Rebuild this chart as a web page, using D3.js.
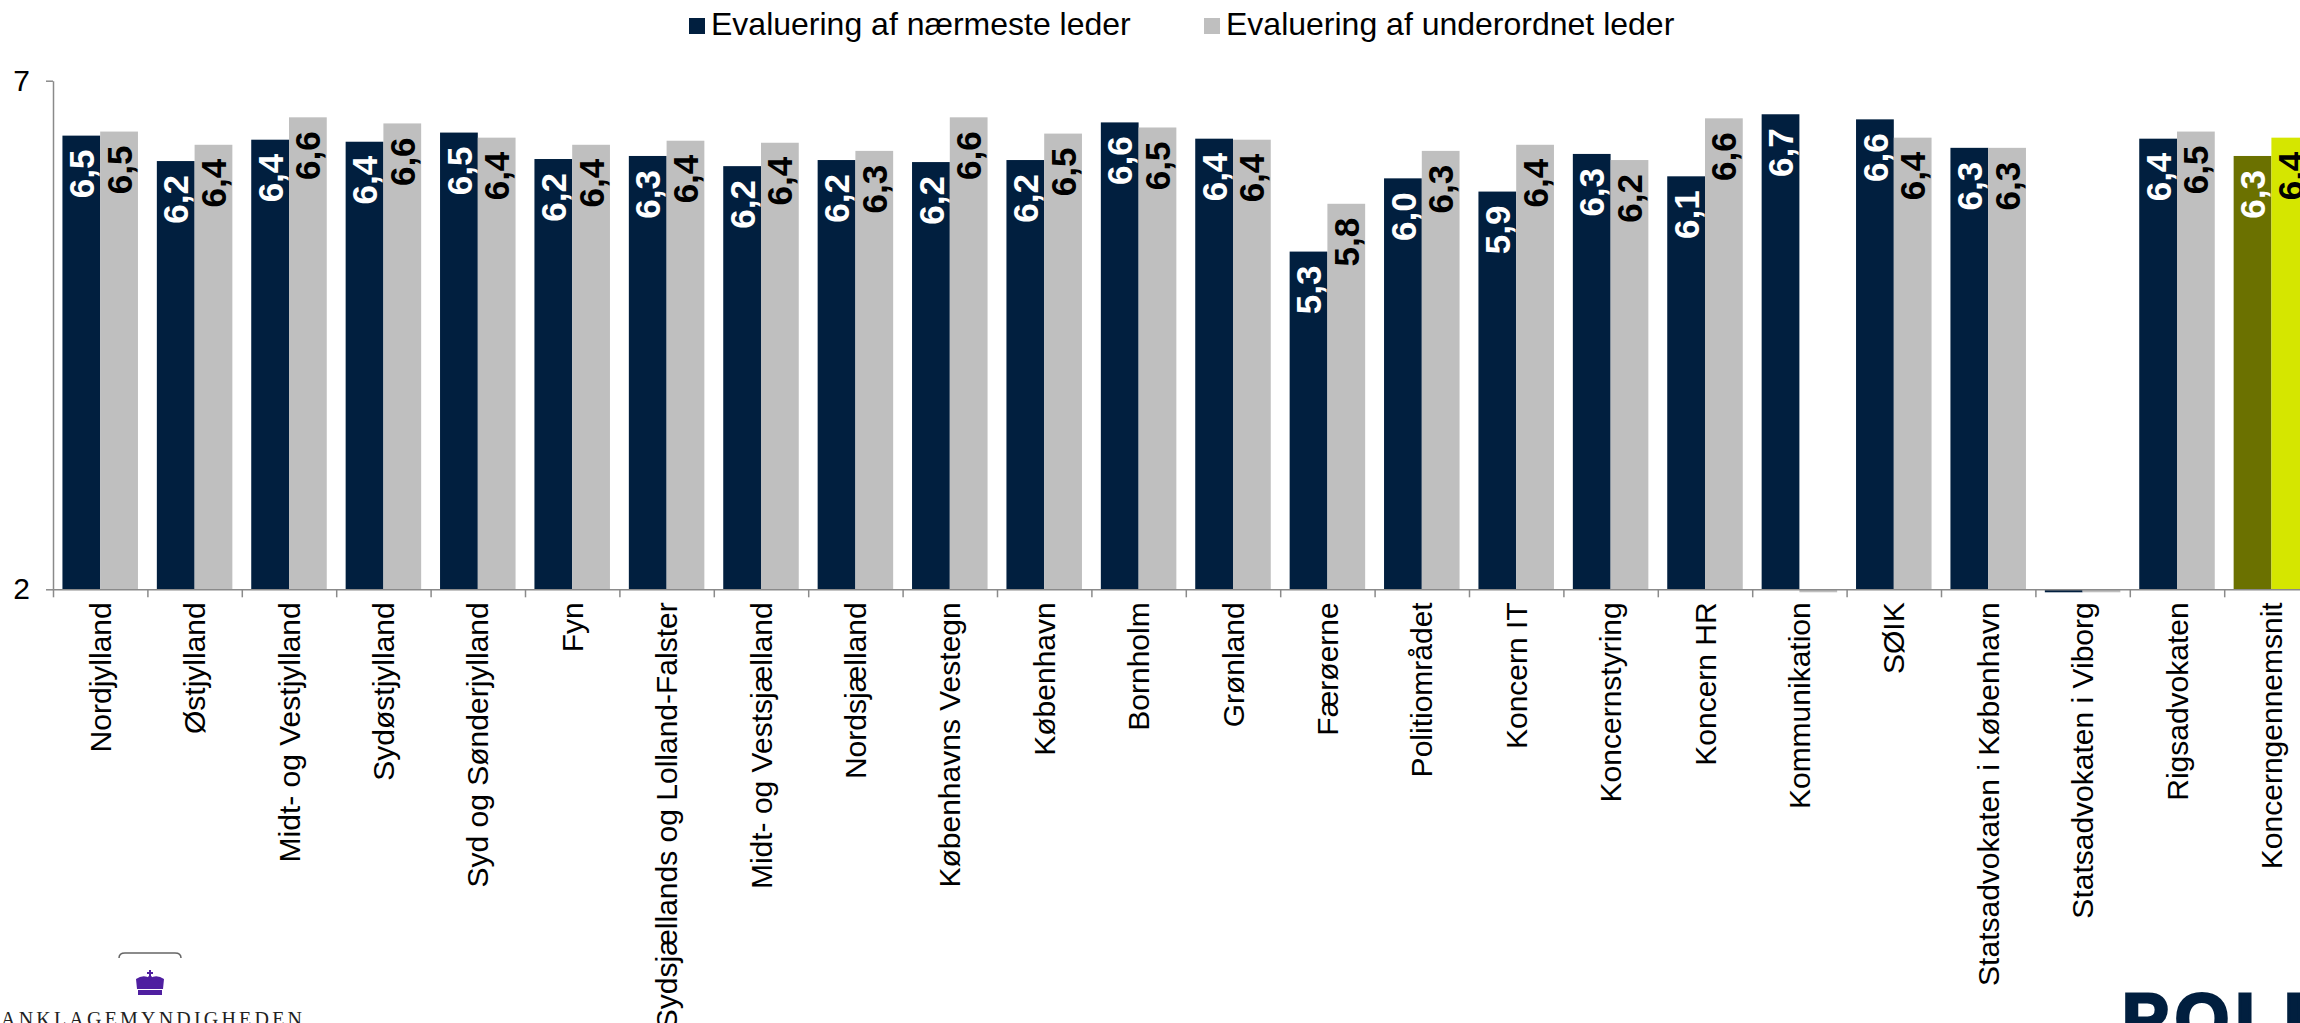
<!DOCTYPE html>
<meta charset="utf-8">
<style>

    body {
        margin: 0;
        background: #fff;
    }

    text {
        font-family: "Liberation Sans", Arial, sans-serif;
    }

    .axis path,
    .axis line {
        stroke: #8a8a8a;
        stroke-width: 1.5px;
    }

    .value-label {
        font-size: 35px;
        font-weight: bold;
    }

</style>
<svg width="2300" height="1023"></svg>
<script src="https://d3js.org/d3.v7.min.js"></script>
<script>

    var categories = ["Nordjylland", "Østjylland", "Midt- og Vestjylland", "Sydøstjylland",
        "Syd og Sønderjylland", "Fyn", "Sydsjællands og Lolland-Falster", "Midt- og Vestsjælland",
        "Nordsjælland", "Københavns Vestegn", "København", "Bornholm", "Grønland", "Færøerne",
        "Politiområdet", "Koncern IT", "Koncernstyring", "Koncern HR", "Kommunikation", "SØIK",
        "Statsadvokaten i København", "Statsadvokaten i Viborg", "Rigsadvokaten", "Koncerngennemsnit"];

    var seriesNames = ["Evaluering af nærmeste leder", "Evaluering af underordnet leder"];

    var naermeste = [6.46, 6.21, 6.42, 6.40, 6.49, 6.23, 6.26, 6.16, 6.22, 6.20, 6.22, 6.59,
        6.43, 5.32, 6.04, 5.91, 6.28, 6.06, 6.67, 6.62, 6.34, 0, 6.43, 6.26];

    var underordnet = [6.50, 6.37, 6.64, 6.58, 6.44, 6.37, 6.41, 6.39, 6.31, 6.64, 6.48, 6.54,
        6.42, 5.79, 6.31, 6.37, 6.22, 6.63, 0, 6.44, 6.34, 0, 6.50, 6.44];

    var yTicks = [2, 7];

    var seriesColors = ["#011f3f", "#bfbfbf"];
    var highlightColors = ["#6b7100", "#d5e600"];
    var highlightCategory = "Koncerngennemsnit";
    var labelColors = ["#fff", "#000"];

    var svg = d3.select("svg"),
        width = +svg.attr("width"),
        height = +svg.attr("height");

    var plotLeft = 53,
        step = 94.4,
        plotTop = 80.7,
        plotBottom = 589.3;

    var x0 = d3.scaleBand()
        .domain(categories)
        .range([plotLeft, plotLeft + categories.length * step])
        .padding(0);

    var x1 = d3.scaleBand()
        .domain([0, 1])
        .range([0, x0.bandwidth()])
        .paddingOuter(0.25);

    var y = d3.scaleLinear()
        .domain([yTicks[0], yTicks[1]])
        .range([plotBottom, plotTop]);

    var fmt = d3.format(".1f");
    var label = function (v) {
        return fmt(v).replace(".", ",");
    };

    var rows = categories.map(function (c, i) {
        return {
            name: c,
            values: [naermeste[i], underordnet[i]]
        };
    });

    // bars
    var group = svg.append("g")
        .selectAll("g")
        .data(rows)
        .enter().append("g")
        .attr("transform", function (d) {
            return "translate(" + x0(d.name) + ",0)";
        });

    var bars = group.selectAll("rect")
        .data(function (d) {
            return d.values.map(function (v, k) {
                return {cat: d.name, k: k, v: v};
            });
        })
        .enter();

    bars.append("rect")
        .attr("x", function (d) { return x1(d.k); })
        .attr("width", x1.bandwidth())
        .attr("y", function (d) {
            return d.v < yTicks[0] ? y(yTicks[0]) : y(d.v);
        })
        .attr("height", function (d) {
            // values under the axis minimum show as a thin sliver below the axis
            return d.v < yTicks[0] ? 3 : y(yTicks[0]) - y(d.v);
        })
        .attr("fill", function (d) {
            return d.cat === highlightCategory ? highlightColors[d.k] : seriesColors[d.k];
        });

    bars.filter(function (d) { return d.v >= yTicks[0]; })
        .append("text")
        .attr("class", "value-label")
        .attr("transform", function (d) {
            return "translate(" + (x1(d.k) + x1.bandwidth() / 2) + "," + (y(d.v) + 14) + ") rotate(-90)";
        })
        .attr("dy", "0.36em")
        .attr("text-anchor", "end")
        .attr("fill", function (d) { return labelColors[d.k]; })
        .text(function (d) { return label(d.v); });

    // y axis
    svg.append("g")
        .attr("class", "axis")
        .attr("transform", "translate(" + plotLeft + ",0)")
        .call(d3.axisLeft(y).tickValues(yTicks).tickFormat(d3.format("d"))
            .tickSize(7).tickSizeOuter(0).tickPadding(16))
        .call(function (g) {
            g.selectAll("text")
                .attr("fill", "#000")
                .style("font-size", "30px")
                .style("font-family", "'Liberation Sans', Arial, sans-serif");
        });

    // x axis: boundary ticks
    var xIdx = d3.scaleLinear()
        .domain([0, categories.length])
        .range(x0.range());

    svg.append("g")
        .attr("class", "axis")
        .attr("transform", "translate(0," + plotBottom + ")")
        .call(d3.axisBottom(xIdx).ticks(categories.length).tickFormat("").tickSize(8).tickSizeOuter(0));

    // category labels
    svg.append("g")
        .attr("transform", "translate(0," + plotBottom + ")")
        .call(d3.axisBottom(x0).tickSize(0))
        .call(function (g) {
            g.select(".domain").remove();
            g.selectAll("text")
                .attr("transform", "rotate(-90)")
                .attr("x", -13)
                .attr("y", 0)
                .attr("dy", "0.35em")
                .attr("text-anchor", "end")
                .attr("fill", "#000")
                .style("font-size", "30px")
                .style("font-family", "'Liberation Sans', Arial, sans-serif");
        });

    // legend
    var legendX = [689, 1204];
    var legend = svg.append("g")
        .selectAll("g")
        .data(seriesNames)
        .enter().append("g")
        .attr("transform", function (d, i) {
            return "translate(" + legendX[i] + ",18)";
        });

    legend.append("rect")
        .attr("width", 16)
        .attr("height", 16)
        .attr("fill", function (d, i) { return seriesColors[i]; });

    legend.append("text")
        .attr("x", 22)
        .attr("y", 17)
        .style("font-size", "32px")
        .attr("fill", "#000")
        .text(function (d) { return d; });

    // logos
    var logo = svg.append("g");

    logo.append("path")
        .attr("d", "M119,958 Q119,953 125,953 L175,953 Q181,953 181,958")
        .attr("fill", "none")
        .attr("stroke", "#666")
        .attr("stroke-width", 1.5);

    var crown = logo.append("g")
        .attr("transform", "translate(150,983)")
        .attr("fill", "#4f1fa0");

    crown.append("path")
        .attr("d", "M-13,6 L-14,-4 Q-7,-9 0,-5 Q7,-9 14,-4 L13,6 Z");
    crown.append("rect").attr("x", -12).attr("y", 7).attr("width", 24).attr("height", 5);
    crown.append("rect").attr("x", -1).attr("y", -13).attr("width", 2).attr("height", 8);
    crown.append("rect").attr("x", -3).attr("y", -11).attr("width", 6).attr("height", 2);
    crown.selectAll("circle")
        .data([-9, 0, 9])
        .enter().append("circle")
        .attr("cx", function (d) { return d; })
        .attr("cy", function (d) { return d === 0 ? -5 : -3; })
        .attr("r", 2.2);

    logo.append("text")
        .attr("x", 1)
        .attr("y", 1026)
        .style("font-family", "'Liberation Serif', 'Times New Roman', serif")
        .style("font-size", "20px")
        .style("letter-spacing", "3.2px")
        .attr("fill", "#222")
        .text("ANKLAGEMYNDIGHEDEN");

    logo.append("text")
        .attr("x", 2122)
        .attr("y", 1043)
        .style("font-size", "70px")
        .style("font-weight", "bold")
        .style("letter-spacing", "6px")
        .style("stroke", "#011f3f")
        .style("stroke-width", "3px")
        .attr("fill", "#011f3f")
        .text("POLITI");

</script>
